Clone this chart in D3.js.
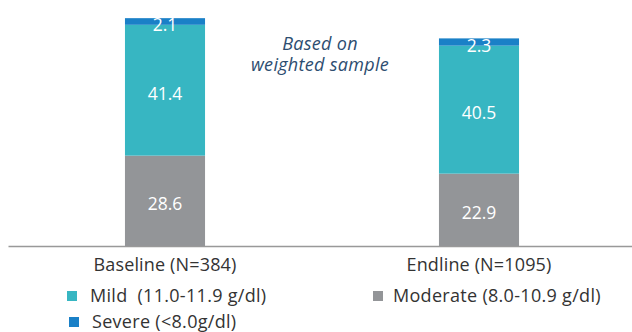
<!DOCTYPE html>
<html>
<head>
<meta charset="utf-8">
<script src="https://cdn.jsdelivr.net/npm/d3@7"></script>
<style>
  html, body { margin: 0; padding: 0; background: #fff; }
  svg { display: block; font-family: "Open Sans", sans-serif; }
</style>
</head>
<body>
<div id="chart"></div>
<script>
const categories = ["Baseline (N=384)", "Endline (N=1095)"];
const seriesNames = ["Moderate", "Mild", "Severe"];
const moderate = [28.6, 22.9];
const mild = [41.4, 40.5];
const severe = [2.1, 2.3];
const legendLabels = ["Mild  (11.0-11.9 g/dl)", "Moderate (8.0-10.9 g/dl)", "Severe (<8.0g/dl)"];
const legendKeys = ["Mild", "Moderate", "Severe"];
const colors = { Moderate: "#939598", Mild: "#37b6c2", Severe: "#1a80c7" };

const W = 632, H = 332;
const svg = d3.select("#chart").append("svg").attr("width", W).attr("height", H);

const rows = categories.map((c, i) => ({ cat: c, Moderate: moderate[i], Mild: mild[i], Severe: severe[i] }));
const stack = d3.stack().keys(seriesNames)(rows);

const x = d3.scaleBand().domain(categories).range([8, 636]).paddingInner(0.745).paddingOuter(0.3725);
const y = d3.scaleLinear().domain([0, 75]).range([246, 9]);

const g = svg.append("g");
stack.forEach(layer => {
  g.selectAll(null).data(layer).enter().append("rect")
    .attr("x", d => x(d.data.cat))
    .attr("width", x.bandwidth())
    .attr("y", d => y(d[1]))
    .attr("height", d => y(d[0]) - y(d[1]))
    .attr("fill", colors[layer.key]);
});
stack.forEach(layer => {
  g.selectAll(null).data(layer).enter().append("text")
    .attr("x", d => x(d.data.cat) + x.bandwidth() / 2)
    .attr("y", d => (y(d[0]) + y(d[1])) / 2 + 9.5)
    .attr("text-anchor", "middle")
    .attr("fill", "#fff")
    .attr("font-size", "17.5px")
    .text(d => (d[1] - d[0]).toFixed(1));
});

const axis = d3.axisBottom(x).tickSize(0).tickSizeOuter(0).tickPadding(12);
const ax = svg.append("g").attr("transform", "translate(0,246)").call(axis);
ax.select(".domain").attr("stroke", "#999").attr("stroke-width", 1.5);
ax.selectAll("text").attr("font-size", "18px").attr("letter-spacing", "0.15px")
  .attr("fill", "#333").attr("font-family", "Open Sans");

const ann = svg.append("text").attr("text-anchor", "middle").attr("fill", "#2d4d70")
  .attr("font-style", "italic").attr("font-size", "18px").attr("letter-spacing", "0.3px");
ann.append("tspan").attr("x", 320).attr("y", 50).text("Based on");
ann.append("tspan").attr("x", 320).attr("y", 71).text("weighted sample");

const legendPos = [[67, 291, 90], [373, 291, 393], [69, 317, 92]];
legendKeys.forEach((k, i) => {
  const [lx, ly, tx] = legendPos[i];
  svg.append("rect").attr("x", lx).attr("y", ly).attr("width", 10).attr("height", 10).attr("fill", colors[k]);
  svg.append("text").attr("x", tx).attr("y", ly + 11).attr("font-size", "18px").attr("letter-spacing", "0.3px")
    .attr("fill", "#333").style("white-space", "pre")
    .text(legendLabels[i]);
});
</script>
</body>
</html>
